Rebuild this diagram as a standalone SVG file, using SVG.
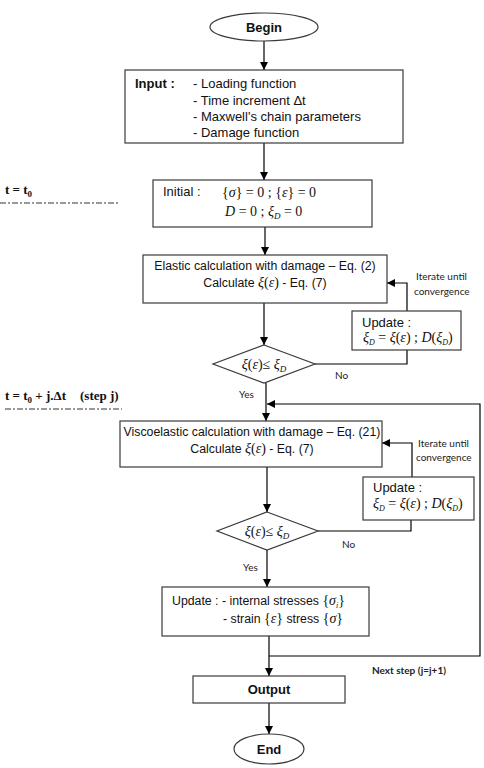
<svg xmlns="http://www.w3.org/2000/svg" width="484" height="768" viewBox="0 0 484 768">
<style>
.box{fill:#fff;stroke:#3a3a3a;stroke-width:1.2}
.ln{fill:none;stroke:#000;stroke-width:1.2}
.t{font-family:"Liberation Sans",Arial,sans-serif;font-size:13px;fill:#111}
.c{font-size:12.3px}
.b{font-weight:bold}
.m{font-family:"Liberation Serif","Times New Roman",serif;font-size:14px;fill:#111}
.i{font-style:italic}
.s{font-family:Lato,"Open Sans",sans-serif;font-size:10px;fill:#222}
.lbl{font-family:"Liberation Serif","Times New Roman",serif;font-size:13px;font-weight:bold;fill:#111}
.dd{fill:none;stroke:#333;stroke-width:1;stroke-dasharray:6 2 2 2}
</style>
<defs>
<marker id="ah" viewBox="0 0 10 10" refX="10" refY="5" markerWidth="8" markerHeight="8" markerUnits="userSpaceOnUse" orient="auto">
<path d="M0,0 L10,5 L0,10 z" fill="#000"/>
</marker>
</defs>

<g id="time-labels">
<text class="lbl" x="5" y="194">t = t<tspan font-size="9" dy="3">0</tspan></text>
<line class="dd" x1="0" y1="203" x2="118" y2="203"/>
<text class="lbl" x="5" y="400">t = t<tspan font-size="9" dy="3">0</tspan><tspan dy="-3"> + j.Δt</tspan><tspan x="80">(step j)</tspan></text>
<line class="dd" x1="5" y1="409" x2="122" y2="409"/>
</g>

<g id="connectors">
<line class="ln" x1="264" y1="41" x2="264" y2="70" marker-end="url(#ah)"/>
<line class="ln" x1="264" y1="143" x2="264" y2="180" marker-end="url(#ah)"/>
<line class="ln" x1="265" y1="227" x2="265" y2="255" marker-end="url(#ah)"/>
<line class="ln" x1="264" y1="303" x2="264" y2="345" marker-end="url(#ah)"/>
<polyline class="ln" points="315,364 407,364 407,350"/>
<polyline class="ln" points="407,311 407,283 387,283" marker-end="url(#ah)"/>
<line class="ln" x1="266" y1="383" x2="266" y2="421" marker-end="url(#ah)"/>
<line class="ln" x1="267" y1="467" x2="267" y2="512" marker-end="url(#ah)"/>
<polyline class="ln" points="318,531 411,531 411,520"/>
<polyline class="ln" points="412,477 412,443 382,443" marker-end="url(#ah)"/>
<line class="ln" x1="267" y1="550" x2="267" y2="587" marker-end="url(#ah)"/>
<line class="ln" x1="269" y1="636" x2="269" y2="676" marker-end="url(#ah)"/>
<polyline class="ln" points="269,656 480,656 480,404 267,404" marker-end="url(#ah)"/>
<line class="ln" x1="269" y1="703" x2="269" y2="734" marker-end="url(#ah)"/>
<text class="s" x="335" y="379">No</text>
<text class="s" x="239" y="398">Yes</text>
<text class="s" x="342" y="548">No</text>
<text class="s" x="243" y="571">Yes</text>
<text class="s" x="416" y="280">Iterate until</text>
<text class="s" x="414" y="295">convergence</text>
<text class="s" x="418" y="447">Iterate until</text>
<text class="s" x="416" y="461">convergence</text>
<text class="s b" x="372" y="674">Next step (j=j+1)</text>
</g>

<g id="begin">
<ellipse class="box" cx="264" cy="27" rx="54" ry="14"/>
<text class="t b" x="264" y="32" text-anchor="middle" font-size="14">Begin</text>
</g>

<g id="input">
<rect class="box" x="125" y="70" width="278" height="73"/>
<text class="t b" x="135" y="88">Input :</text>
<text class="t" x="193" y="88">- Loading function</text>
<text class="t" x="193" y="105">- Time increment Δt</text>
<text class="t" x="193" y="121">- Maxwell's chain parameters</text>
<text class="t" x="193" y="137">- Damage function</text>
</g>

<g id="initial">
<rect class="box" x="153" y="180" width="219" height="47"/>
<text class="t" x="163" y="196" font-size="12">Initial :</text>
<text class="m" x="222" y="197">{<tspan class="i">σ</tspan>} = 0 ; {<tspan class="i">ε</tspan>} = 0</text>
<text class="m" x="225" y="216"><tspan class="i">D</tspan> = 0 ;  <tspan class="i">ξ</tspan><tspan class="i" font-size="9" dy="3">D</tspan><tspan dy="-3"> = 0</tspan></text>
</g>

<g id="elastic">
<rect class="box" x="143" y="255" width="244" height="48"/>
<text class="t c" x="265" y="270" text-anchor="middle">Elastic calculation with damage – Eq. (2)</text>
<text class="t c" x="265" y="287" text-anchor="middle">Calculate <tspan class="m i">ξ</tspan><tspan class="m">(<tspan class="i">ε</tspan>)</tspan> - Eq. (7)</text>
</g>

<g id="update1">
<rect class="box" x="352" y="311" width="109" height="39"/>
<text class="t" x="362" y="327">Update :</text>
<text class="m" x="363" y="342" font-size="12"><tspan class="i">ξ</tspan><tspan class="i" font-size="8" dy="3">D</tspan><tspan dy="-3"> = </tspan><tspan class="i">ξ</tspan>(<tspan class="i">ε</tspan>) ;  <tspan class="i">D</tspan>(<tspan class="i">ξ</tspan><tspan class="i" font-size="8" dy="3">D</tspan><tspan dy="-3">)</tspan></text>
</g>

<g id="check1">
<polygon class="box" points="264,345 315,364 264,383 213,364"/>
<text class="m" x="264" y="369" text-anchor="middle"><tspan class="i">ξ</tspan>(<tspan class="i">ε</tspan>)≤ <tspan class="i">ξ</tspan><tspan class="i" font-size="9" dy="3">D</tspan></text>
</g>

<g id="viscoelastic">
<rect class="box" x="120" y="421" width="262" height="46"/>
<text class="t c" x="252" y="436" text-anchor="middle">Viscoelastic calculation with damage – Eq. (21)</text>
<text class="t c" x="252" y="453" text-anchor="middle">Calculate <tspan class="m i">ξ</tspan><tspan class="m">(<tspan class="i">ε</tspan>)</tspan> - Eq. (7)</text>
</g>

<g id="update2">
<rect class="box" x="363" y="477" width="111" height="43"/>
<text class="t" x="373" y="492">Update :</text>
<text class="m" x="373" y="508" font-size="12"><tspan class="i">ξ</tspan><tspan class="i" font-size="8" dy="3">D</tspan><tspan dy="-3"> = </tspan><tspan class="i">ξ</tspan>(<tspan class="i">ε</tspan>) ; <tspan class="i">D</tspan>(<tspan class="i">ξ</tspan><tspan class="i" font-size="8" dy="3">D</tspan><tspan dy="-3">)</tspan></text>
</g>

<g id="check2">
<polygon class="box" points="267,512 318,531 267,550 217,531"/>
<text class="m" x="267" y="536" text-anchor="middle"><tspan class="i">ξ</tspan>(<tspan class="i">ε</tspan>)≤ <tspan class="i">ξ</tspan><tspan class="i" font-size="9" dy="3">D</tspan></text>
</g>

<g id="update3">
<rect class="box" x="162" y="587" width="207" height="49"/>
<text class="t c" x="172" y="605">Update : - internal stresses <tspan class="m">{<tspan class="i">σ</tspan><tspan class="i" font-size="8" dy="3">i</tspan><tspan dy="-3">}</tspan></tspan></text>
<text class="t c" x="223" y="623">- strain <tspan class="m">{<tspan class="i">ε</tspan>}</tspan> stress <tspan class="m">{<tspan class="i">σ</tspan>}</tspan></text>
</g>

<g id="output">
<rect class="box" x="193" y="676" width="152" height="27"/>
<text class="t b" x="269" y="694" text-anchor="middle" font-size="14">Output</text>
</g>

<g id="end">
<ellipse class="box" cx="269" cy="749" rx="35" ry="15"/>
<text class="t b" x="269" y="754" text-anchor="middle" font-size="13">End</text>
</g>
</svg>
